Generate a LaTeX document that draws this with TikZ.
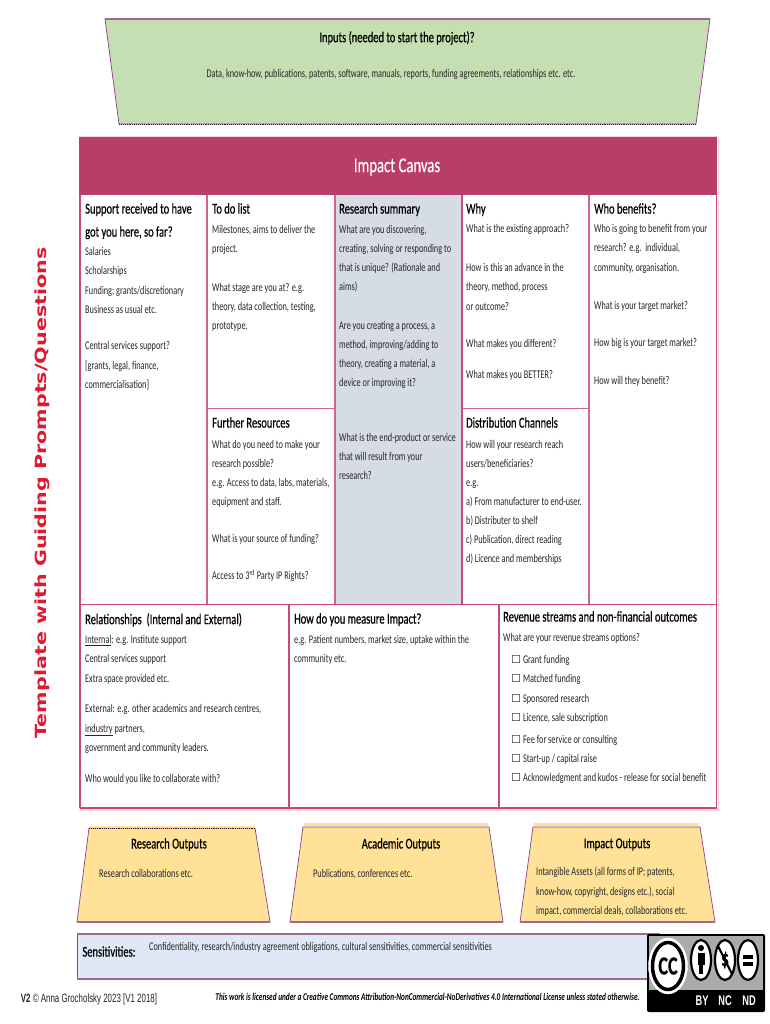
\documentclass[tikz,border=0pt]{standalone}
\usepackage{fontspec}
\setmainfont[FakeStretch=0.7]{Carlito}
\newfontfamily\headfont[FakeStretch=0.7,FakeBold=0.5]{Carlito}
\newfontfamily\symfont{DejaVu Sans}
\newfontfamily\arialfont[FakeStretch=0.66]{Liberation Sans}
\newfontfamily\verdfont[FakeStretch=1.34]{DejaVu Sans}
\newcommand{\cbx}{{\symfont\fontsize{11}{11}\selectfont ☐}\,}
\definecolor{crim}{HTML}{B83D68}
\definecolor{sidered}{HTML}{DC1A30}
\definecolor{cellline}{HTML}{C9497A}
\definecolor{softline}{HTML}{D0658E}
\definecolor{pale}{HTML}{F5D5E0}
\definecolor{greenfill}{HTML}{C5DFB3}
\definecolor{yellowfill}{HTML}{FFE298}
\definecolor{bluefill}{HTML}{DEE9F5}
\definecolor{greyfill}{HTML}{D5DCE4}
\definecolor{trapline}{HTML}{8E3F85}
\definecolor{trapband}{HTML}{A0688F}
\definecolor{ink}{HTML}{262626}
\definecolor{badgegrey}{HTML}{A9ACA8}
\tikzset{
  x=1pt,y=-1pt,
  body/.style={anchor=north west,inner sep=0pt,align=left,text=ink,font=\fontsize{11.8}{19.4}\selectfont},
  tightbody/.style={body,font=\fontsize{11.8}{19.1}\selectfont},
  head/.style={anchor=north west,inner sep=0pt,align=left,text=black,font=\headfont\fontsize{15}{23}\selectfont},
  midhead/.style={anchor=center,inner sep=0pt,text=black,font=\headfont\fontsize{15}{18}\selectfont},
  cellrule/.style={draw=cellline,line width=1.6pt},
  softrule/.style={draw=softline,line width=1.6pt},
  trap/.style={draw=trapline,line width=0.7pt},
  band/.style={draw=trapband,line width=1.6pt},
  ccicon/.style={fill=white,draw=black,line width=2.2pt},
  cclabel/.style={anchor=center,inner sep=0pt,text=white,font=\arialfont\bfseries\fontsize{14}{16}\selectfont},
}
\begin{document}
\begin{tikzpicture}
\useasboundingbox (0,0) rectangle (770,1024);
\fill[white] (0,0) rectangle (770,1024);
% inputs
\filldraw[trap,fill=greenfill] (105,19) -- (710,19) -- (696,124) -- (119,124) -- cycle;
\draw[band] (105,19) -- (710,19);
\draw[draw=black!70!trapline,line width=0.9pt,densely dotted] (119,124) -- (696,124);
\node[midhead] (inputsT) at (397,38) {Inputs (needed to start the project)?};
\node[anchor=center,inner sep=0pt,text=ink,font=\fontsize{11.8}{14}\selectfont] (inputsB) at (391,74.5) {Data, know-how, publications, patents, software, manuals, reports, funding agreements, relationships etc. etc.};
% canvas
\draw[pale,line width=1pt] (79,136.5) -- (717,136.5);
\draw[pale,line width=1.5pt] (718.5,137) -- (718.5,810) -- (79,810);
\fill[crim] (79,137) rectangle (717,195);
\node[anchor=center,inner sep=0pt,text=white,font=\headfont\fontsize{21}{24}\selectfont] (title) at (397,167) {Impact Canvas};
\fill[greyfill] (335,195) rectangle (462,604);
\draw[cellrule] (80,195) -- (80,808);
\draw[cellrule] (716.5,195) -- (716.5,808);
\draw[softrule] (207,195) -- (207,604);
\draw[softrule] (335,195) -- (335,604);
\draw[cellrule] (462,195) -- (462,604);
\draw[softrule] (589,195) -- (589,604);
\draw[softrule] (207,408.5) -- (335,408.5);
\draw[softrule] (462,408.5) -- (589,408.5);
\draw[cellrule] (80,604.5) -- (716.5,604.5);
\draw[cellrule] (80,808) -- (716.5,808);
\draw[cellrule] (289,604) -- (289,808);
\draw[cellrule] (499,604) -- (499,808);
% side title
\node[rotate=90,anchor=center,inner sep=0pt,text=sidered,font=\verdfont\bfseries\fontsize{15.4}{18}\selectfont] (side) at (42,493) {Template with Guiding Prompts/Questions};
% column 1
\node[head] (h1) at (85,203) {Support received to have\\got you here, so far?};
\node[body] (b1) at (85,247) {Salaries\\Scholarships\\Funding; grants/discretionary\\Business as usual etc.\\[17pt]Central services support?\\{[}grants, legal, finance,\\commercialisation{]}};
% column 2
\node[head] (h2) at (212,203) {To do list};
\node[body] (b2) at (212,225) {Milestones, aims to deliver the\\project.\\[19pt]What stage are you at? e.g.\\theory, data collection, testing,\\prototype.};
\node[head] (h2b) at (212,417) {Further Resources};
\node[tightbody] (b2b) at (212,440) {What do you need to make your\\research possible?\\e.g. Access to data, labs, materials,\\equipment and staff.\\[18pt]What is your source of funding?\\[18pt]Access to 3\textsuperscript{rd} Party IP Rights?};
% column 3
\node[head] (h3) at (339,203) {Research summary};
\node[tightbody] (b3) at (339,225) {What are you discovering,\\creating, solving or responding to\\that is unique? (Rationale and\\aims)\\[19.6pt]Are you creating a process, a\\method, improving/adding to\\theory, creating a material, a\\device or improving it?};
\node[tightbody] (b3b) at (339,433) {What is the end-product or service\\that will result from your\\research?};
% column 4
\node[head] (h4) at (466,203) {Why};
\node[body] (b4) at (466,224) {What is the existing approach?\\[19.6pt]How is this an advance in the\\theory, method, process\\or outcome?\\[18pt]What makes you different?\\[12pt]What makes you BETTER?};
\node[head] (h4b) at (466,417) {Distribution Channels};
\node[tightbody] (b4b) at (466,440) {How will your research reach\\users/beneficiaries?\\e.g.\\a) From manufacturer to end-user.\\b) Distributer to shelf\\c) Publication, direct reading\\d) Licence and memberships};
% column 5
\node[head] (h5) at (594,203) {Who benefits?};
\node[body] (b5) at (594,224) {Who is going to benefit from your\\research? e.g.\ \ individual,\\community, organisation.\\[18.5pt]What is your target market?\\[18pt]How big is your target market?\\[18.5pt]How will they benefit?};
% lower row
\node[head] (h6) at (85,613) {Relationships\ \ (Internal and External)};
\node[body] (b6) at (85,635) {\underline{Internal}: e.g. Institute support\\Central services support\\Extra space provided etc.\\[11pt]External: e.g. other academics and research centres,\\\underline{industry} partners,\\government and community leaders.\\[12pt]Who would you like to collaborate with?};
\node[head] (h7) at (294,613) {How do you measure Impact?};
\node[body] (b7) at (294,635) {e.g. Patient numbers, market size, uptake within the\\community etc.};
\node[head] (h8) at (503,611) {Revenue streams and non-financial outcomes};
\node[body] (b8) at (503,633) {What are your revenue streams options?};
\node[body] (b8b) at (511,655) {\cbx Grant funding\\\cbx Matched funding\\\cbx Sponsored research\\\cbx Licence, sale subscription\\[2pt]\cbx Fee for service or consulting\\\cbx Start-up / capital raise\\\cbx Acknowledgment and kudos - release for social benefit};
% outputs
\filldraw[trap,fill=yellowfill] (89,828) -- (255,828) -- (270,922) -- (77,922) -- cycle;
\draw[draw=black!70!trapline,line width=0.9pt,densely dotted] (89,828) -- (255,828);
\draw[band] (77,922) -- (270,922);
\filldraw[trap,fill=yellowfill] (303,827) -- (489,827) -- (503,922) -- (290,922) -- cycle;
\draw[band] (290,922) -- (503,922);
\filldraw[trap,fill=yellowfill] (533,827) -- (700,827) -- (715,922) -- (520,922) -- cycle;
\draw[band] (520,922) -- (715,922);
\fill[yellowfill] (90,826) rectangle (255,827.5);
\fill[yellowfill] (304,823) rectangle (488,826);
\fill[yellowfill] (534,823) rectangle (699,826);
\node[midhead] (o1) at (169,844.5) {Research Outputs};
\node[midhead] (o2) at (401,844.5) {Academic Outputs};
\node[midhead] (o3) at (617,844.5) {Impact Outputs};
\node[body] (ob1) at (99,869) {Research collaborations etc.};
\node[body] (ob2) at (313,869) {Publications, conferences etc.};
\node[body] (ob3) at (536,867) {Intangible Assets (all forms of IP; patents,\\know-how, copyright, designs etc.), social\\impact, commercial deals, collaborations etc.};
% sensitivities
\filldraw[trap,fill=bluefill] (77,934) rectangle (660,979);
\draw[band] (77,934) -- (660,934);
\draw[band] (77,979) -- (660,979);
\node[midhead] (s1) at (109,951.5) {Sensitivities:};
\node[body] (s2) at (149,942) {Confidentiality, research/industry agreement obligations, cultural sensitivities, commercial sensitivities};
% footer
\node[anchor=center,inner sep=0pt,text=ink,font=\arialfont\fontsize{12}{14}\selectfont] (v2) at (89,999) {\textbf{V2} © Anna Grocholsky 2023 [V1 2018]};
\node[anchor=center,inner sep=0pt,text=black,font=\fontsize{10.4}{14}\selectfont\bfseries\itshape] (lic) at (427.5,997) {This work is licensed under a Creative Commons Attribution-NonCommercial-NoDerivatives 4.0 International License unless stated otherwise.};
% cc badge
\fill[black,rounded corners=2pt] (647,934) rectangle (765,1012);
\fill[badgegrey] (649,936) rectangle (763,990);
\filldraw[fill=white,draw=white] (668,966) ellipse (19.5 and 28);
\filldraw[ccicon,line width=3.5pt] (668,966) ellipse (15.5 and 23.5);
\node[anchor=center,inner sep=0pt,font=\headfont\bfseries\fontsize{26}{26}\selectfont] (ccmark) at (668,966) {CC};
\filldraw[ccicon] (701,960) ellipse (10 and 20);
\fill[black] (701,948) circle (3);
\fill[black] (697.5,953) rectangle (704.5,965);
\fill[black] (699,965) rectangle (703,974);
\filldraw[ccicon] (725,960) ellipse (10 and 20);
\node[anchor=center,inner sep=0pt,font=\headfont\bfseries\fontsize{22}{22}\selectfont] (dollar) at (725,960) {\$};
\draw[black,line width=2.2pt] (718,946) -- (732,974);
\filldraw[ccicon] (748,960) ellipse (10 and 20);
\fill[black] (743,955) rectangle (753,958.5);
\fill[black] (743,962) rectangle (753,965.5);
\node[cclabel] (by) at (702,1001) {BY};
\node[cclabel] (nc) at (725,1001) {NC};
\node[cclabel] (nd) at (749,1001) {ND};
\end{tikzpicture}
\end{document}
